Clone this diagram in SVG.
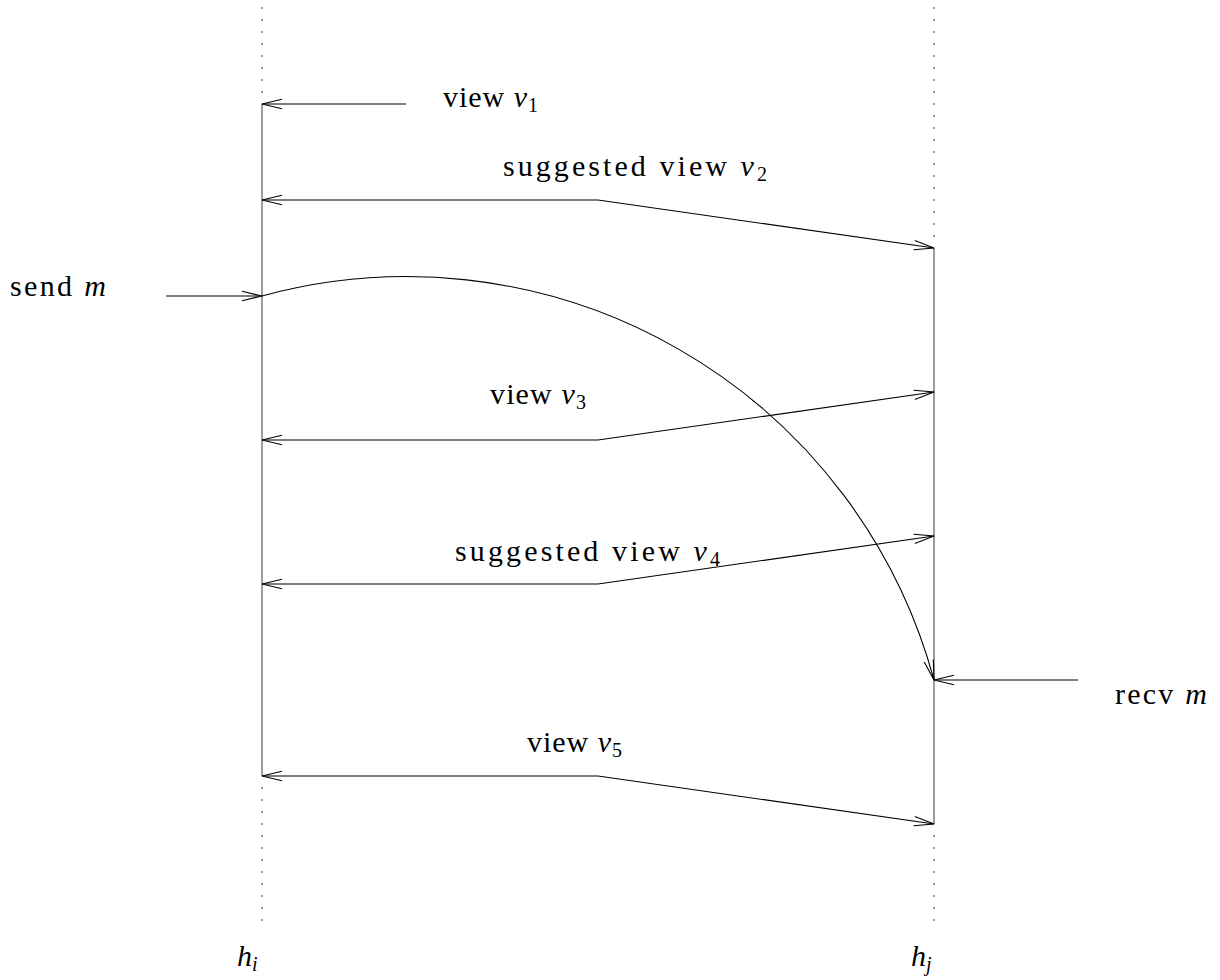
<svg xmlns="http://www.w3.org/2000/svg" width="1220" height="980" viewBox="0 0 1220 980">
<style>
.it{font-style:italic}
.sub{font-size:20px}
.conn{fill:none;stroke:#000;stroke-width:1.1}
.life{fill:none;stroke:#666;stroke-width:1.3}
.dot{fill:none;stroke:#555;stroke-width:1.6;stroke-dasharray:1.6 10.4}
</style>
<defs>
<marker id="ah" markerUnits="userSpaceOnUse" markerWidth="24" markerHeight="14" viewBox="0 0 24 14" refX="21" refY="7" orient="auto-start-reverse">
<path d="M1,2.3 L21,7 L1,11.7" fill="none" stroke="#000" stroke-width="1.1"/>
</marker>
</defs>
<rect width="1220" height="980" fill="#fff"/>
<g id="lifeline-hi">
<line class="dot" x1="262" y1="7.2" x2="262" y2="100"/>
<line class="life" x1="262" y1="104" x2="262" y2="776"/>
<line class="dot" x1="262" y1="787.2" x2="262" y2="922"/>
<text x="237" y="966" font-family="Liberation Serif" font-size="30"><tspan class="it">h</tspan><tspan class="sub it" dy="5">i</tspan></text>
</g>
<g id="lifeline-hj">
<line class="dot" x1="934" y1="7.2" x2="934" y2="240"/>
<line class="life" x1="934" y1="248" x2="934" y2="824"/>
<line class="dot" x1="934" y1="835.2" x2="934" y2="922"/>
<text x="911" y="966" font-family="Liberation Serif" font-size="30"><tspan class="it">h</tspan><tspan class="sub it" dy="5">j</tspan></text>
</g>
<g id="connectors">
<polyline class="conn" points="406,104 262,104" marker-end="url(#ah)"/>
<polyline class="conn" points="262,200 598,200 934,248" marker-start="url(#ah)" marker-end="url(#ah)"/>
<polyline class="conn" points="166,296 262,296" marker-end="url(#ah)"/>
<path class="conn" d="M262,296 A546.7,546.7 0 0,1 934,680" marker-end="url(#ah)"/>
<polyline class="conn" points="262,440 598,440 934,392" marker-start="url(#ah)" marker-end="url(#ah)"/>
<polyline class="conn" points="262,584 598,584 934,536" marker-start="url(#ah)" marker-end="url(#ah)"/>
<polyline class="conn" points="1078,680 934,680" marker-end="url(#ah)"/>
<polyline class="conn" points="262,776 598,776 934,824" marker-start="url(#ah)" marker-end="url(#ah)"/>
</g>
<g id="label-v1"><text x="443" y="107" font-family="Liberation Serif" font-size="30" textLength="95" lengthAdjust="spacing">view <tspan class="it">v</tspan><tspan class="sub" dy="5">1</tspan></text></g>
<g id="label-v2"><text x="503" y="176" font-family="Liberation Serif" font-size="30" textLength="264" lengthAdjust="spacing">suggested view <tspan class="it">v</tspan><tspan class="sub" dy="5">2</tspan></text></g>
<g id="label-send"><text x="10" y="296" font-family="Liberation Serif" font-size="30" textLength="96" lengthAdjust="spacing">send <tspan class="it">m</tspan></text></g>
<g id="label-v3"><text x="490" y="404" font-family="Liberation Serif" font-size="30" textLength="96" lengthAdjust="spacing">view <tspan class="it">v</tspan><tspan class="sub" dy="5">3</tspan></text></g>
<g id="label-v4"><text x="455" y="561" font-family="Liberation Serif" font-size="30" textLength="265" lengthAdjust="spacing">suggested view <tspan class="it">v</tspan><tspan class="sub" dy="5">4</tspan></text></g>
<g id="label-recv"><text x="1115" y="704" font-family="Liberation Serif" font-size="30" textLength="92" lengthAdjust="spacing">recv <tspan class="it">m</tspan></text></g>
<g id="label-v5"><text x="527" y="752" font-family="Liberation Serif" font-size="30" textLength="95" lengthAdjust="spacing">view <tspan class="it">v</tspan><tspan class="sub" dy="5">5</tspan></text></g>
</svg>
